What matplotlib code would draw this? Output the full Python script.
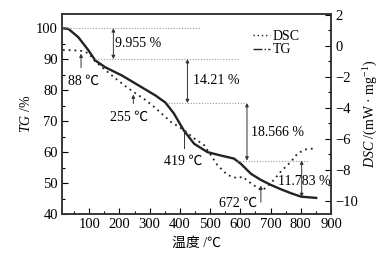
import numpy as np
import matplotlib
matplotlib.use('Agg')
import matplotlib.pyplot as plt
from matplotlib.lines import Line2D
from matplotlib.ticker import MultipleLocator

plt.rcParams['font.family'] = ['Liberation Serif', 'Noto Sans CJK SC']
plt.rcParams['mathtext.fontset'] = 'custom'
plt.rcParams['mathtext.rm'] = 'Liberation Serif'
plt.rcParams['mathtext.it'] = 'Liberation Serif:italic'
plt.rcParams['font.size'] = 10

# TG curve (left axis)
tg_temp = [10, 31, 64, 98, 120, 153, 209, 264, 319, 352, 380, 413, 447, 491,
           535, 579, 602, 635, 668, 701, 734, 768, 801, 851]
tg_val = [100, 99.8, 97.1, 92.8, 89.6, 87.4, 84.7, 81.5, 78.3, 76.0, 72.5, 67.0,
          62.7, 60.0, 58.9, 57.9, 56.2, 53.0, 51.0, 49.4, 48.0, 46.7, 45.6, 45.2]

# DSC curve (right axis)
dsc_temp = [13, 70, 98, 120, 153, 186, 220, 253, 286, 319, 369, 413, 447, 480,
            502, 524, 557, 591, 607, 635, 668, 674, 701, 734, 768, 790, 817, 851]
dsc_val = [-0.26, -0.3, -0.47, -1.0, -1.55, -2.08, -2.6, -3.05, -3.48, -4.0,
           -4.88, -5.42, -5.96, -6.39, -7.03, -7.68, -8.32, -8.54, -8.43, -8.86,
           -9.29, -9.3, -8.86, -8.1, -7.46, -6.92, -6.67, -6.6]

# mass loss steps
levels = [100, 90.045, 75.835, 57.269, 45.486]
step_labels = ['9.955 %', '14.21 %', '18.566 %', '11.783 %']
step_x = [180, 425, 622, 803]
step_text_pos = [(186, 95.1), (442, 83.1), (635, 66.3), (724, 50.5)]
ref_spans = [(10, 470), (118, 592), (360, 618), (590, 828)]

# peak temperatures
peak_labels = ['88 ℃', '255 ℃', '419 ℃', '672 ℃']
peak_text_pos = [(30, 82.8), (170, 71.2), (346, 57.0), (528, 43.4)]
peak_arrow = [(73, 87.3, 91.8), (246, 75.7, 78.6), (412, 61.2, 67.0), (668, 43.8, 49.2)]

fig = plt.figure(figsize=(3.83, 2.57), dpi=100)
ax = fig.add_axes([62/383, 1-214/257, (331-62)/383, (214-14)/257])
ax2 = ax.twinx()

ax.plot(tg_temp, tg_val, '-', color='#222222', lw=1.7)
ax2.plot(dsc_temp, dsc_val, color='#222222', lw=1.3, linestyle=(0, (1, 2.2)))

for (x0, x1), lv in zip(ref_spans, levels[:4]):
    ax.plot([x0, x1], [lv, lv], color='#999999', lw=0.8, linestyle=(0, (1, 1.5)))

for i in range(4):
    ax.annotate('', xy=(step_x[i], levels[i+1]), xytext=(step_x[i], levels[i]),
                arrowprops=dict(arrowstyle='<|-|>', color='#333333', lw=0.7,
                                mutation_scale=5, shrinkA=0, shrinkB=0))
    ax.text(step_text_pos[i][0], step_text_pos[i][1], step_labels[i],
            ha='left', va='center', fontsize=10)

for i in range(4):
    x, y0, y1 = peak_arrow[i]
    if i == 2:
        ax.plot([x, x], [y0, y1], color='#333333', lw=0.7)
    else:
        ax.annotate('', xy=(x, y1), xytext=(x, y0),
                    arrowprops=dict(arrowstyle='-|>', color='#333333', lw=0.7,
                                    mutation_scale=5, shrinkA=0, shrinkB=0))
    ax.text(peak_text_pos[i][0], peak_text_pos[i][1], peak_labels[i],
            ha='left', va='center', fontsize=10)

ax.set_xlim(10, 900)
ax.set_ylim(40, 104.6)
ax2.set_ylim(-10.84, 2.06)

ax.xaxis.set_minor_locator(MultipleLocator(50))
ax.yaxis.set_major_locator(MultipleLocator(10))
ax.yaxis.set_minor_locator(MultipleLocator(5))
ax2.yaxis.set_major_locator(MultipleLocator(2))
ax2.yaxis.set_minor_locator(MultipleLocator(1))
ax.set_xticks(range(100, 1000, 100))

ax.tick_params(axis='both', which='both', direction='in', top=False, right=False,
               labelsize=10.5)
ax.tick_params(which='major', length=4, width=0.8, pad=3)
ax.tick_params(which='minor', length=2, width=0.8)
ax2.tick_params(axis='y', which='both', direction='in', labelsize=10.5)
ax2.tick_params(which='major', length=4, width=0.8, pad=3)
ax2.tick_params(which='minor', length=2, width=0.8)

for a in (ax, ax2):
    for s in a.spines.values():
        s.set_linewidth(1.1)
        s.set_color('#333333')

ax.set_xlabel('温度 /℃', fontsize=10, labelpad=4)
ax.set_ylabel(r'$\it{TG}$ /%', fontsize=10, labelpad=2)
ax2.set_ylabel(r'$\it{DSC}$ /(mW · mg$^{-1}$)', fontsize=10, labelpad=3)

handles = [Line2D([], [], color='#222222', lw=1.0, linestyle=(0, (1, 2))),
           Line2D([], [], color='#222222', lw=1.0, linestyle='-.')]
ax2.legend(handles, ['DSC', 'TG'], loc='upper right', bbox_to_anchor=(0.92, 0.97),
           frameon=False, handlelength=1.2, handletextpad=0.2, labelspacing=0.05,
           fontsize=10, borderpad=0.2)

fig.savefig('out.png', dpi=100)
